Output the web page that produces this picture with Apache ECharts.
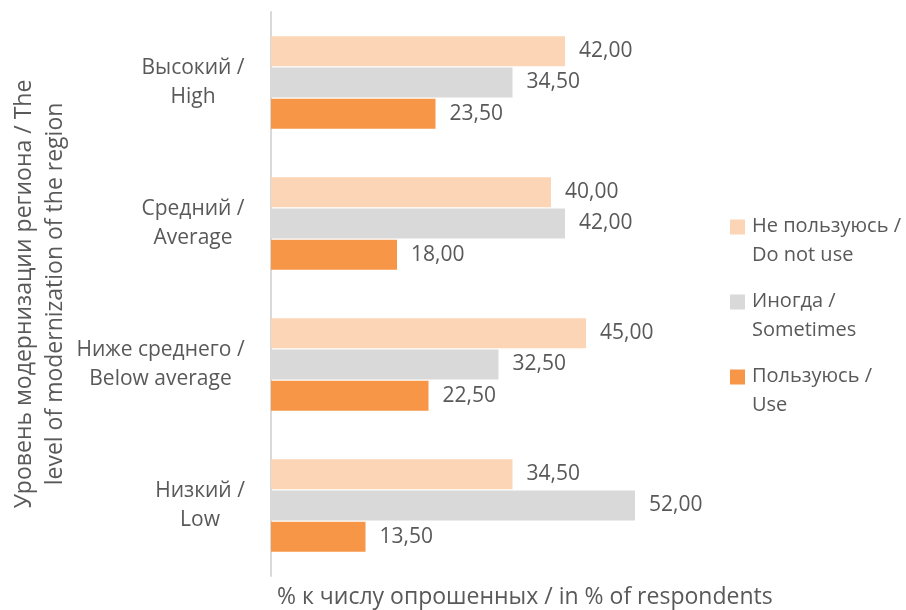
<!DOCTYPE html>
<html>
<head>
<meta charset="utf-8">
<script src="https://cdn.jsdelivr.net/npm/echarts@6/dist/echarts.min.js"></script>
<style>
  html, body { margin: 0; padding: 0; background: #fff; }
  #chart { width: 906px; height: 610px; }
</style>
</head>
<body>
<div id="chart"></div>
<script>
// categories listed bottom -> top (value axis goes upward)
const categories = ['Низкий /\nLow', 'Ниже среднего /\nBelow average', 'Средний /\nAverage', 'Высокий /\nHigh'];
const seriesNames = ['Не пользуюсь /\nDo not use', 'Иногда /\nSometimes', 'Пользуюсь /\nUse'];
const doNotUse = [34.5, 45.0, 40.0, 42.0];
const sometimes = [52.0, 32.5, 42.0, 34.5];
const use = [13.5, 22.5, 18.0, 23.5];

const colors = ['#FBD5B5', '#D9D9D9', '#F79646'];
const font = '"Open Sans", sans-serif';
const txt = '#595959';
const catFontSize = 21;

// square on top, empty space right/below so the icon sits on the first text line
const legendIcon = 'path://M0,0L15,0L15,15L0,15Z M17,43L17.01,43L17.01,42.99Z';

function fmt(p) {
  return p.value.toFixed(2).replace('.', ',');
}

// category labels: lines centred inside a block that is right aligned to the axis
const measure = document.createElement('canvas').getContext('2d');
measure.font = catFontSize + 'px "Open Sans"';
const catRich = {};
categories.forEach(function (c, i) {
  const w = Math.max.apply(null, c.split('\n').map(function (l) { return measure.measureText(l).width; }));
  catRich['c' + i] = {
    width: Math.ceil(w), align: 'center',
    color: txt, fontFamily: font, fontSize: catFontSize, lineHeight: 29
  };
});

function bar(name, data, color) {
  return {
    name: name,
    type: 'bar',
    data: data,
    barWidth: 30,
    barGap: '4%',
    barCategoryGap: '34%',
    itemStyle: { color: color },
    label: {
      show: true,
      position: 'right',
      distance: 14,
      formatter: fmt,
      color: txt,
      fontFamily: font,
      fontSize: 21
    }
  };
}

const chart = echarts.init(document.getElementById('chart'));
chart.setOption({
  animation: false,
  textStyle: { fontFamily: font },
  title: {
    text: '% к числу опрошенных / in % of respondents',
    left: 277,
    top: 586,
    padding: 0,
    textStyle: { color: txt, fontFamily: font, fontSize: 23, fontWeight: 'normal' }
  },
  legend: {
    orient: 'vertical',
    left: 730,
    top: 212,
    padding: 0,
    data: seriesNames,
    icon: legendIcon,
    itemWidth: 17,
    itemHeight: 43,
    itemGap: 17,
    textStyle: { color: txt, fontFamily: font, fontSize: 20, lineHeight: 29 }
  },
  grid: { left: 271, right: 215, top: 12, bottom: 34, outerBoundsMode: 'none' },
  xAxis: {
    type: 'value',
    min: 0,
    max: 60,
    show: false,
    splitLine: { show: false }
  },
  yAxis: {
    type: 'category',
    data: categories,
    axisLine: { show: true, lineStyle: { color: '#D9D9D9', width: 2 } },
    axisTick: { show: false },
    axisLabel: {
      color: txt, fontFamily: font, fontSize: catFontSize, lineHeight: 29,
      margin: 26, align: 'right',
      formatter: function (value, idx) {
        return value.split('\n').map(function (l) { return '{c' + idx + '|' + l + '}'; }).join('\n');
      },
      rich: catRich
    },
    name: 'Уровень модернизации региона / The\nlevel of modernization of the region',
    nameLocation: 'middle',
    nameGap: 200,
    nameTextStyle: { color: txt, fontFamily: font, fontSize: 23, lineHeight: 31, align: 'center' }
  },
  series: [
    bar(seriesNames[0], doNotUse, colors[0]),
    bar(seriesNames[1], sometimes, colors[1]),
    bar(seriesNames[2], use, colors[2])
  ]
});
</script>
</body>
</html>
